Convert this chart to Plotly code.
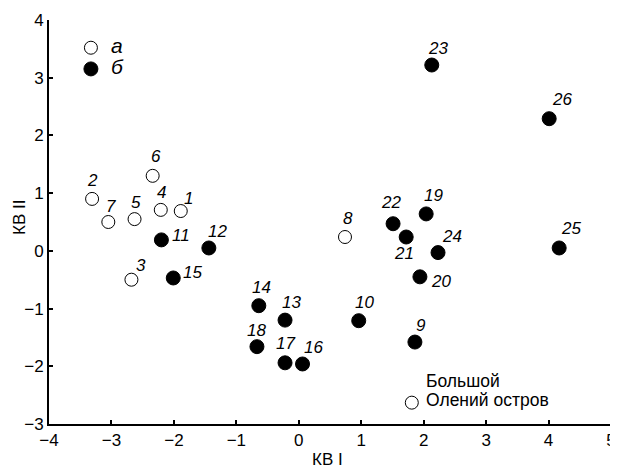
import plotly.graph_objects as go

# ---- data ----
open_labels = ["1", "2", "3", "4", "5", "6", "7", "8"]
open_x = [-1.89, -3.31, -2.68, -2.21, -2.63, -2.34, -3.05, 0.74]
open_y = [0.69, 0.90, -0.50, 0.71, 0.55, 1.30, 0.50, 0.24]

filled_labels = ["9", "10", "11", "12", "13", "14", "15", "16", "17", "18",
                 "19", "20", "21", "22", "23", "24", "25", "26"]
filled_x = [1.86, 0.96, -2.20, -1.44, -0.22, -0.64, -2.01, 0.06, -0.22, -0.67,
            2.04, 1.94, 1.72, 1.51, 2.13, 2.23, 4.17, 4.01]
filled_y = [-1.58, -1.21, 0.19, 0.05, -1.20, -0.95, -0.47, -1.96, -1.94, -1.66,
            0.64, -0.45, 0.24, 0.47, 3.22, -0.03, 0.05, 2.29]

island_lines = ["Большой", "Олений остров"]
island_x = [1.81]
island_y = [-2.63]

legend_names = ["а", "б"]
x_title = "КВ I"
y_title = "КВ II"
x_ticks = [-4, -3, -2, -1, 0, 1, 2, 3, 4, 5]
y_ticks = [-3, -2, -1, 0, 1, 2, 3, 4]

# ---- label offsets (pixels: dx right, dy down) ----
label_offsets = {
    "1": (8, -13), "2": (0, -18), "3": (10, -14), "4": (1, -17), "5": (1, -17),
    "6": (3, -19), "7": (3, -16), "8": (3, -19), "9": (6, -17), "10": (6, -18),
    "11": (20, -4), "12": (9, -16), "13": (6, -18), "14": (3, -18), "15": (19, -5),
    "16": (11, -16), "17": (0, -19), "18": (0, -16), "19": (7, -18), "20": (21, 5),
    "21": (-2, 16), "22": (-2, -21), "23": (6, -17), "24": (14, -16), "25": (12, -19),
    "26": (13, -19),
}
island_offsets = [(12, -22), (12, -3)]

FONT = "Liberation Sans, Arial, sans-serif"
fig = go.Figure()

def legend_text(s):
    return '<span style="font-size:21px"><i>' + s + '</i></span>'

fig.add_trace(go.Scatter(
    x=open_x, y=open_y, mode="markers", name=legend_text(legend_names[0]),
    marker=dict(size=13, color="white", line=dict(color="black", width=1)),
))
fig.add_trace(go.Scatter(
    x=filled_x, y=filled_y, mode="markers", name=legend_text(legend_names[1]),
    marker=dict(size=14, color="black", line=dict(color="black", width=1)),
))
fig.add_trace(go.Scatter(
    x=island_x, y=island_y, mode="markers", showlegend=False,
    marker=dict(size=13, color="white", line=dict(color="black", width=1)),
))

for lab, xv, yv in list(zip(open_labels, open_x, open_y)) + list(zip(filled_labels, filled_x, filled_y)):
    dx, dy = label_offsets[lab]
    fig.add_annotation(x=xv, y=yv, text="<i>" + lab + "</i>", showarrow=False,
                       xshift=dx, yshift=-dy,
                       font=dict(family=FONT, size=17, color="black"))

for line, (dx, dy) in zip(island_lines, island_offsets):
    fig.add_annotation(x=island_x[0], y=island_y[0], text=line, showarrow=False,
                       xanchor="left", yanchor="middle", align="left",
                       xshift=dx, yshift=-dy,
                       font=dict(family=FONT, size=17.5, color="black"))

# axis titles
fig.add_annotation(xref="paper", yref="paper", x=0.495, y=-0.089, text=x_title,
                   showarrow=False, xanchor="center", yanchor="middle",
                   font=dict(family=FONT, size=17, color="black"))
fig.add_annotation(xref="paper", yref="paper", x=-0.0516, y=0.51, text=y_title,
                   showarrow=False, textangle=-90, xanchor="center", yanchor="middle",
                   font=dict(family=FONT, size=17, color="black"))

# page body has an 8px default margin; figure sized to fit the 618x468 window
fig.update_layout(
    width=610, height=460,
    margin=dict(l=41, r=7, t=12, b=44),
    paper_bgcolor="white", plot_bgcolor="white",
    font=dict(family=FONT, size=17, color="black"),
    showlegend=True,
    legend=dict(x=0.039, y=0.97, xanchor="left", yanchor="top",
                bgcolor="rgba(0,0,0,0)", font=dict(family=FONT, size=14, color="black"),
                tracegroupgap=0, itemsizing="trace"),
)
fig.update_xaxes(
    range=[-4, 5], tickvals=x_ticks, ticks="inside", ticklen=4, tickwidth=2,
    tickcolor="black", showline=True, linecolor="black", linewidth=2,
    showgrid=False, zeroline=False, automargin=False,
)
fig.update_yaxes(
    range=[-3, 4], tickvals=y_ticks, ticks="inside", ticklen=4, tickwidth=2,
    tickcolor="black", showline=True, linecolor="black", linewidth=2,
    showgrid=False, zeroline=False, automargin=False,
)

fig.write_html("out.html")
